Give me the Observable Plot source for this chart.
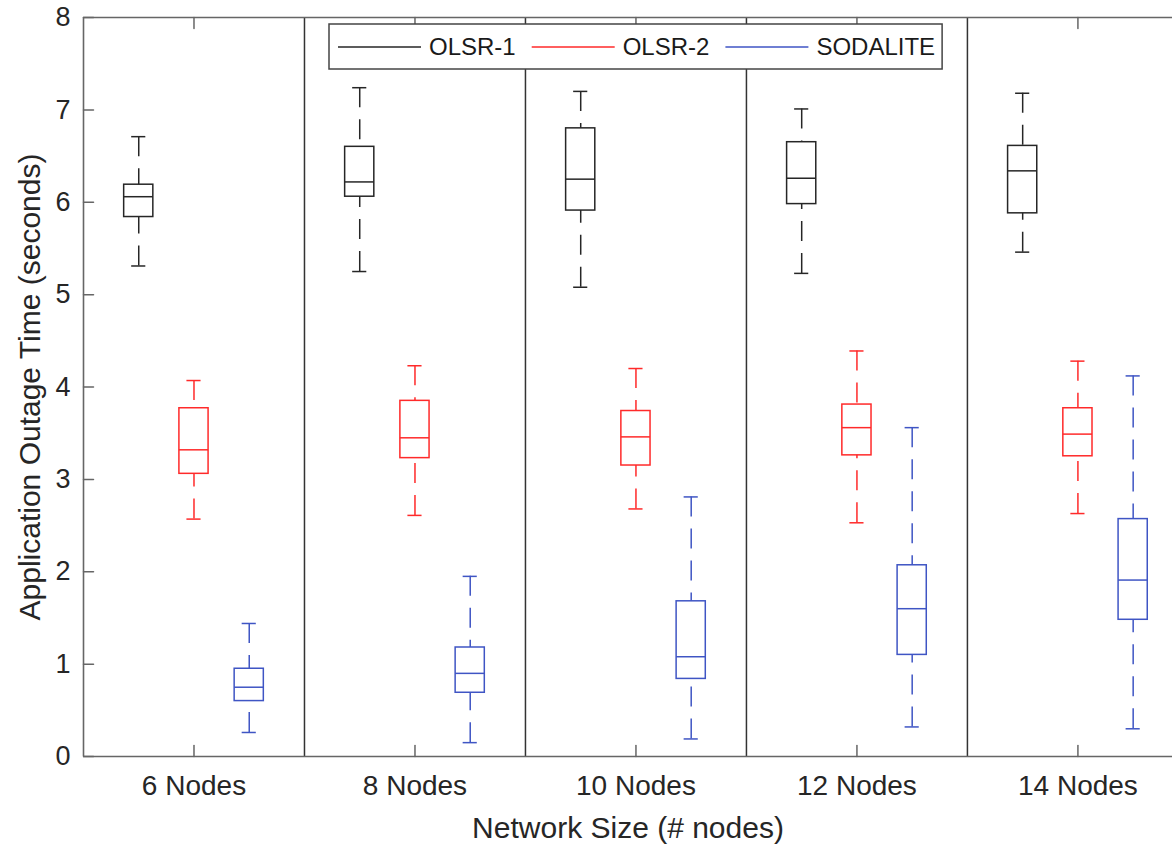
<!DOCTYPE html>
<html><head><meta charset="utf-8">
<script src="https://cdn.jsdelivr.net/npm/d3@7"></script>
<script src="https://cdn.jsdelivr.net/npm/@observablehq/plot@0.6"></script>
<style>
html,body{margin:0;padding:0;background:#fff;overflow:hidden;}
#chart{width:1172px;height:846px;position:relative;}
</style></head><body><div id="chart"></div>
<script>
const groups = ["6 Nodes", "8 Nodes", "10 Nodes", "12 Nodes", "14 Nodes"];
const seriesNames = ["OLSR-1", "OLSR-2", "SODALITE"];
const seriesColors = ["#262626", "#ff2a2a", "#3f55c4"];
// [lower whisker, q1, median, q3, upper whisker] per group
const olsr1 = [
  [5.31, 5.84, 6.06, 6.19, 6.71],
  [5.25, 6.06, 6.22, 6.60, 7.24],
  [5.08, 5.91, 6.25, 6.80, 7.20],
  [5.23, 5.98, 6.26, 6.65, 7.01],
  [5.46, 5.88, 6.34, 6.61, 7.18]
];
const olsr2 = [
  [2.57, 3.06, 3.32, 3.77, 4.07],
  [2.61, 3.23, 3.45, 3.85, 4.23],
  [2.68, 3.15, 3.46, 3.74, 4.20],
  [2.53, 3.26, 3.56, 3.81, 4.39],
  [2.63, 3.25, 3.49, 3.77, 4.28]
];
const sodalite = [
  [0.26, 0.60, 0.75, 0.95, 1.44],
  [0.15, 0.69, 0.90, 1.18, 1.95],
  [0.19, 0.84, 1.08, 1.68, 2.81],
  [0.32, 1.10, 1.60, 2.07, 3.56],
  [0.30, 1.48, 1.91, 2.57, 4.12]
];
const yTicks = [0, 1, 2, 3, 4, 5, 6, 7, 8];
const xTicks = [1, 2, 3, 4, 5];
const separators = [1.5, 2.5, 3.5, 4.5];
const xLabel = "Network Size (# nodes)";
const yLabel = "Application Outage Time (seconds)";

const seriesData = [olsr1, olsr2, sodalite];
const rows = [];
seriesData.forEach((arr, si) => arr.forEach((v, gi) => rows.push({
  group: groups[gi], gi, series: seriesNames[si], si,
  lo: v[0], q1: v[1], med: v[2], q3: v[3], hi: v[4]
})));

const OFF = 0.25, HW = 0.066, CW = 0.032;
const pos = d => d.gi + 1 + (d.si - 1) * OFF;
const FONT = "'Liberation Sans', Arial, Helvetica, sans-serif";
const frameColor = "#666";
const tickShape = {draw(context, l) { context.moveTo(0, 0); context.lineTo(0, -l); }};

const plot = Plot.plot({
  width: 1172, height: 846,
  marginLeft: 83, marginRight: 0, marginTop: 17, marginBottom: 90,
  x: {domain: [0.5, 5.428]},
  y: {domain: [0, 8]},
  color: {domain: seriesNames, range: seriesColors},
  style: {fontFamily: FONT, color: "#262626", background: "#fff", overflow: "hidden"},
  marks: [
    // separators
    Plot.ruleX(separators, {stroke: "#333", strokeWidth: 1.5}),
    // frame
    Plot.ruleY([0, 8], {stroke: frameColor, strokeWidth: 1.6}),
    Plot.ruleX([0.5], {stroke: frameColor, strokeWidth: 1.6}),
    // inward tick marks
    Plot.vector(yTicks, {x: 0.5, y: d => d, length: 10, rotate: 90, anchor: "start", shape: tickShape, stroke: frameColor, strokeWidth: 1.5}),
    Plot.vector(xTicks, {x: d => d, y: 0, length: 11, rotate: 0, anchor: "start", shape: tickShape, stroke: frameColor, strokeWidth: 1.5}),
    Plot.vector(xTicks, {x: d => d, y: 8, length: 11, rotate: 180, anchor: "start", shape: tickShape, stroke: frameColor, strokeWidth: 1.5}),
    // tick labels
    Plot.axisY(yTicks, {anchor: "left", tickSize: 0, tickPadding: 13, fontSize: 27, label: null, tickFormat: d => String(d)}),
    Plot.axisX(xTicks, {anchor: "bottom", tickSize: 0, tickPadding: 19, fontSize: 28, tickFormat: i => groups[i - 1], label: null}),
    // axis titles
    Plot.text([xLabel], {frameAnchor: "bottom", dy: 72, lineAnchor: "middle", fontSize: 30, fill: "#262626"}),
    Plot.text([yLabel], {frameAnchor: "left", textAnchor: "middle", lineAnchor: "middle", rotate: -90, dx: -53, fontSize: 30, fill: "#262626"}),
    // whiskers
    Plot.ruleX(rows, {x: pos, y1: "hi", y2: "q3", stroke: "series", strokeWidth: 1.5, strokeDasharray: "20,12"}),
    Plot.ruleX(rows, {x: pos, y1: "lo", y2: "q1", stroke: "series", strokeWidth: 1.5, strokeDasharray: "20,12"}),
    // caps
    Plot.ruleY(rows, {y: "hi", x1: d => pos(d) - CW, x2: d => pos(d) + CW, stroke: "series", strokeWidth: 1.5}),
    Plot.ruleY(rows, {y: "lo", x1: d => pos(d) - CW, x2: d => pos(d) + CW, stroke: "series", strokeWidth: 1.5}),
    // boxes
    Plot.rect(rows, {x1: d => pos(d) - HW, x2: d => pos(d) + HW, y1: "q1", y2: "q3", stroke: "series", fill: "none", strokeWidth: 1.5}),
    // medians
    Plot.ruleY(rows, {y: "med", x1: d => pos(d) - HW, x2: d => pos(d) + HW, stroke: "series", strokeWidth: 1.5})
  ]
});
document.getElementById("chart").appendChild(plot);

// legend
const svg = d3.select(plot);
const lg = svg.append("g").attr("font-family", FONT).attr("font-size", 24).attr("fill", "#1a1a1a").attr("text-anchor", "start");
const box = lg.append("rect").attr("fill", "#fff").attr("stroke", "#444").attr("stroke-width", 1.5);
let cx = 338;
const cy = 47;
seriesNames.forEach((name, i) => {
  lg.append("line").attr("x1", cx).attr("x2", cx + 83).attr("y1", cy).attr("y2", cy)
    .attr("stroke", seriesColors[i]).attr("stroke-width", 1.5);
  const t = lg.append("text").attr("x", cx + 91).attr("y", cy).attr("dy", "0.35em").attr("text-anchor", "start").text(name);
  const w = t.node().getComputedTextLength();
  cx = cx + 91 + w + 16;
});
box.attr("x", 329).attr("y", 24).attr("width", cx - 16 + 7 - 329).attr("height", 45);
</script>
</body></html>
